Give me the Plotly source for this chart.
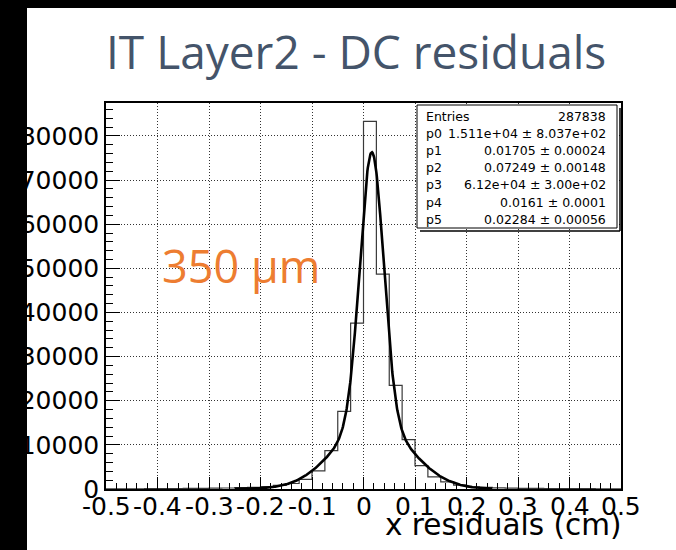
import numpy as np
import plotly.graph_objects as go

# ---------------- data ----------------
bin_low = -0.5
bin_high = 0.5
n_bins = 40
counts = [45, 50, 60, 70, 85, 100, 120, 150, 180, 230,
          300, 400, 550, 800, 1250, 2200, 4100, 8700, 17600, 37600,
          83300, 48700, 23500, 11200, 5300, 2750, 1600, 870, 500, 350,
          260, 200, 160, 130, 110, 95, 80, 70, 60, 50]
fit_params = [1.511e4, 0.01705, 0.07249, 6.12e4, 0.0161, 0.02284]
fit_range = [-0.25, 0.25]
x_tick_vals = [-0.5, -0.4, -0.3, -0.2, -0.1, 0, 0.1, 0.2, 0.3, 0.4, 0.5]
x_tick_text = ["-0.5", "-0.4", "-0.3", "-0.2", "-0.1", "0", "0.1", "0.2", "0.3", "0.4", "0.5"]
y_tick_vals = [0, 10000, 20000, 30000, 40000, 50000, 60000, 70000, 80000]
y_tick_text = ["0", "10000", "20000", "30000", "40000", "50000", "60000", "70000", "80000"]
stats_labels = ["Entries", "p0", "p1", "p2", "p3", "p4", "p5"]
stats_values = ["287838", "1.511e+04 \u00b1 8.037e+02", "0.01705 \u00b1 0.00024",
                "0.07249 \u00b1 0.00148", "6.12e+04 \u00b1 3.00e+02",
                "0.0161 \u00b1 0.0001", "0.02284 \u00b1 0.00056"]
title_text = "IT Layer2 - DC residuals"
note_text = "350 \u00b5m"
x_title = "x residuals (cm)"
y_max = 87465

# ---------------- geometry helpers ----------------
W, H = 676, 550
L, R, T, B = 106, 621, 103, 489


def px(x):
    return (x - L) / (R - L)


def py(y):
    return (B - y) / (B - T)


edges = np.linspace(bin_low, bin_high, n_bins + 1)
step_y = list(counts) + [counts[-1]]

xf = np.linspace(fit_range[0], fit_range[1], 601)
p0, p1, p2, p3, p4, p5 = fit_params
yf = p0 * np.exp(-0.5 * ((xf - p1) / p2) ** 2) + p3 * np.exp(-0.5 * ((xf - p4) / p5) ** 2)

fig = go.Figure()
fig.add_trace(go.Scatter(x=edges, y=step_y, mode="lines", line_shape="hv",
                         line=dict(color="#3a3a3a", width=1.2), hoverinfo="skip"))
fig.add_trace(go.Scatter(x=xf, y=yf, mode="lines",
                         line=dict(color="black", width=2.6), hoverinfo="skip"))

rootfont = "DejaVu Sans"
tickfont = dict(family=rootfont, size=25, color="black")

fig.update_layout(
    width=W, height=H,
    margin=dict(l=L, r=W - R, t=T, b=H - B, pad=0),
    paper_bgcolor="white", plot_bgcolor="white",
    showlegend=False,
    xaxis=dict(range=[bin_low, bin_high], tickmode="array", tickvals=x_tick_vals,
               showticklabels=False, ticks="inside", ticklen=12, tickwidth=1,
               tickcolor="black", showline=True, linecolor="black", linewidth=1.5,
               mirror=True, zeroline=False, showgrid=True, gridcolor="#333",
               griddash="1px,2px", gridwidth=1,
               minor=dict(tick0=bin_low, dtick=0.02, ticks="inside", ticklen=6,
                          tickcolor="black", tickwidth=1, showgrid=False)),
    yaxis=dict(range=[0, y_max], tickmode="array", tickvals=y_tick_vals,
               ticktext=y_tick_text, ticks="inside", ticklen=14, tickwidth=1,
               tickcolor="black", showline=True, linecolor="black", linewidth=1.5,
               mirror=True, zeroline=False, showgrid=True, gridcolor="#333",
               griddash="1px,2px", gridwidth=1, tickfont=tickfont,
               ticklabelstandoff=0,
               minor=dict(tick0=0, dtick=2000, ticks="inside", ticklen=7,
                          tickcolor="black", tickwidth=1, showgrid=False)),
)

shapes = []
# black border strips of the slide
shapes.append(dict(type="rect", xref="paper", yref="paper", x0=px(0), x1=px(27),
                   y0=py(H), y1=py(0), fillcolor="black", line=dict(width=0), layer="above"))
shapes.append(dict(type="rect", xref="paper", yref="paper", x0=px(0), x1=px(W),
                   y0=py(8), y1=py(0) + 0.01, fillcolor="black", line=dict(width=0), layer="above"))
# stats box shadow and box
bx0, bx1, by0, by1 = 417, 617, 105, 228
shapes.append(dict(type="line", xref="paper", yref="paper", x0=px(bx1 + 3), x1=px(bx1 + 3),
                   y0=py(by0 + 3), y1=py(by1 + 3), line=dict(color="black", width=1.5), layer="above"))
shapes.append(dict(type="line", xref="paper", yref="paper", x0=px(bx0 + 3), x1=px(bx1 + 3),
                   y0=py(by1 + 3), y1=py(by1 + 3), line=dict(color="black", width=1.5), layer="above"))
shapes.append(dict(type="rect", xref="paper", yref="paper", x0=px(bx0), x1=px(bx1),
                   y0=py(by1), y1=py(by0), fillcolor="white",
                   line=dict(color="black", width=1), layer="above"))
fig.update_layout(shapes=shapes)

ann = []
ann.append(dict(text=title_text, xref="paper", yref="paper", x=px(356), y=py(51),
                xanchor="center", yanchor="middle", showarrow=False,
                font=dict(family="Open Sans", size=46, color="#44546A")))
ann.append(dict(text=note_text, xref="paper", yref="paper", x=px(160), y=py(265),
                xanchor="left", yanchor="middle", showarrow=False,
                font=dict(family="Open Sans", size=45, color="#ED7D31")))
# x tick labels (ROOT style, close to the axis)
for v, t in zip(x_tick_vals, x_tick_text):
    ann.append(dict(text=t, xref="x", yref="paper", x=v, y=py(506),
                    xanchor="center", yanchor="middle", showarrow=False,
                    font=tickfont))
ann.append(dict(text=x_title, xref="paper", yref="paper", x=px(623), y=py(525),
                xanchor="right", yanchor="middle", showarrow=False,
                font=dict(family=rootfont, size=29.5, color="black")))
row0, drow = 116, 17.2
for i, (lab, val) in enumerate(zip(stats_labels, stats_values)):
    yy = py(row0 + i * drow)
    ann.append(dict(text=lab, xref="paper", yref="paper", x=px(424), y=yy,
                    xanchor="left", yanchor="middle", showarrow=False,
                    font=dict(family=rootfont, size=12.5, color="black")))
    ann.append(dict(text=val, xref="paper", yref="paper", x=px(608), y=yy,
                    xanchor="right", yanchor="middle", showarrow=False,
                    font=dict(family=rootfont, size=12.5, color="black")))
fig.update_layout(annotations=ann)

fig.write_html("out.html")
